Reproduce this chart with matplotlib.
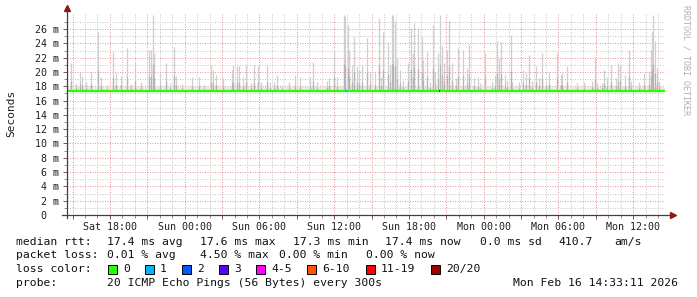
import datetime as dt
import matplotlib
matplotlib.use("Agg")
import matplotlib.pyplot as plt
import matplotlib.dates as mdates
from matplotlib.patches import Rectangle
from matplotlib.ticker import FuncFormatter, FixedLocator

# time window: 48 h ending at the graph timestamp
start = dt.datetime(2026, 2, 14, 14, 33, 11)
end = start + dt.timedelta(hours=48)

median_ms = 17.4
smoke_floor_ms = 17.85

# smoke spikes: hours after start, top of the spike in ms
spike_hours = [0.32, 0.72, 1.04, 1.20, 1.52, 1.92, 2.48, 2.72, 3.20, 3.68, 3.92, 4.32,
               4.80, 5.12, 5.44, 5.92, 6.56, 6.72, 6.88, 6.96, 7.44, 7.92, 8.24, 8.56,
               8.72, 9.20, 10.00, 10.56, 10.96, 11.52, 11.68, 11.92, 12.56, 13.28, 13.36,
               13.68, 13.84, 14.16, 14.40, 14.80, 15.04, 15.36, 15.60, 16.08, 16.32, 16.64,
               16.88, 17.28, 17.84, 18.32, 18.72, 19.52, 19.76, 20.08, 20.88, 21.04, 21.44,
               21.68, 22.24, 22.32, 22.56, 22.64, 22.88, 23.04, 23.28, 23.44, 23.68, 24.08,
               24.32, 24.72, 25.04, 25.20, 25.36, 25.76, 25.92, 26.08, 26.16, 26.32, 26.48,
               26.72, 26.96, 27.36, 27.60, 27.76, 27.84, 28.16, 28.48, 28.56, 28.88, 29.12,
               29.36, 29.52, 29.76, 29.92, 30.08, 30.24, 30.48, 30.64, 30.88, 31.20, 31.36,
               31.76, 32.08, 32.24, 32.64, 32.96, 33.12, 33.52, 34.08, 34.32, 34.48, 34.64,
               34.80, 35.12, 35.28, 35.60, 35.68, 36.32, 36.64, 36.88, 37.12, 37.36, 37.68,
               37.92, 38.16, 38.48, 38.72, 39.36, 39.68, 39.76, 40.16, 40.96, 41.52, 42.16,
               42.40, 42.56, 42.96, 43.12, 43.36, 43.68, 44.08, 44.24, 44.40, 44.80, 45.12,
               45.28, 45.92, 46.32, 46.72, 46.88, 46.96, 47.04, 47.20, 47.36, 47.52]
spike_top = [21.3, 18.4, 20.0, 19.5, 18.6, 20.0, 25.6, 19.3, 18.2, 22.8, 19.8, 19.5,
             23.3, 18.3, 21.4, 18.6, 23.1, 23.1, 28.0, 22.6, 19.8, 21.3, 18.5, 23.5,
             19.5, 18.3, 19.3, 19.3, 18.2, 21.0, 20.3, 19.6, 19.1, 20.3, 21.0,
             20.8, 20.8, 19.3, 21.0, 18.4, 21.0, 20.8, 18.6, 21.0, 18.6, 18.6,
             19.6, 18.2, 18.6, 19.6, 19.3, 19.3, 21.4, 18.6, 18.8, 19.1, 22.8,
             19.3, 28.0, 27.7, 26.6, 23.1, 21.0, 24.9, 20.8, 20.3, 21.0, 24.7,
             20.0, 19.8, 27.5, 19.3, 25.6, 24.2, 21.0, 28.0, 28.0, 27.2, 21.9,
             20.3, 18.8, 21.2, 26.1, 22.6, 26.8, 26.1, 24.9, 21.7, 22.8, 18.6,
             26.6, 20.0, 22.6, 28.0, 23.7, 21.2, 23.1, 27.2, 21.2, 19.1, 23.3,
             23.1, 20.5, 23.9, 19.1, 19.3, 18.4, 22.6, 18.6, 19.6, 24.4, 21.9,
             24.2, 19.6, 18.8, 25.2, 18.6, 18.6, 20.3, 19.8, 22.4, 18.8, 20.8,
             19.1, 22.6, 18.8, 20.0, 22.6, 19.6, 19.8, 20.8, 18.4, 18.6, 18.8,
             21.9, 18.4, 18.4, 20.3, 19.3, 21.0, 19.1, 21.2, 21.0, 19.6, 23.1,
             18.8, 18.6, 19.8, 20.0, 23.1, 25.6, 28.0, 24.4, 20.5, 18.8]

# packet loss events on the median line
loss_hours = [22.40, 29.92]
loss_level = ["1", "20/20"]

loss_names = ["0", "1", "2", "3", "4-5", "6-10", "11-19", "20/20"]
loss_colors = ["#26ff00", "#00b8ff", "#0059ff", "#5e00ff", "#ff00ff", "#ff5500", "#ff0000", "#a10000"]

y_major = list(range(0, 27, 2))
y_minor = list(range(1, 28, 2))

W, H = 697, 297
fig = plt.figure(figsize=(W / 100, H / 100), dpi=100)
fig.patch.set_facecolor("white")
ax = fig.add_axes([67 / W, (H - 215) / H, 598 / W, 202 / H])
mono = "DejaVu Sans Mono"


def t(h):
    return mdates.date2num(start + dt.timedelta(hours=h))


# smoke
ax.fill_between([t(0), t(48)], median_ms, smoke_floor_ms, color="#e8e8e8", lw=0, zorder=1)
xs = [t(h) for h in spike_hours]
ax.vlines(xs, median_ms, spike_top, color="#cfcfcf", lw=0.9, zorder=2)
ax.vlines(xs, median_ms, [median_ms + (v - median_ms) * 0.35 for v in spike_top],
          color="#b4b4b4", lw=0.9, zorder=2)

# median
ax.plot([t(0), t(48)], [median_ms, median_ms], color=loss_colors[0], lw=1.6,
        solid_capstyle="butt", zorder=4)
for h, lv in zip(loss_hours, loss_level):
    c = loss_colors[loss_names.index(lv)]
    ax.plot([t(h - 0.05), t(h + 0.05)], [median_ms, median_ms], color=c, lw=1.6,
            solid_capstyle="butt", zorder=5)

ax.set_xlim(t(0), t(48))
ax.set_ylim(0, 28.25)

# grid
ax.xaxis.set_major_locator(mdates.HourLocator(byhour=range(0, 24, 3)))
ax.xaxis.set_minor_locator(mdates.HourLocator())
ax.xaxis.set_major_formatter(FuncFormatter(
    lambda v, p: mdates.num2date(v).strftime("%a %H:%M") if mdates.num2date(v).hour % 6 == 0 else ""))
ax.yaxis.set_major_locator(FixedLocator(y_major))
ax.yaxis.set_minor_locator(FixedLocator(y_minor))
ax.yaxis.set_major_formatter(FuncFormatter(lambda v, p: "0  " if v == 0 else f"{int(v)} m"))
ax.grid(which="major", color="#e49a9a", lw=0.72, ls=(0, (1, 1.5)), zorder=0)
ax.grid(which="minor", color="#c8c8c8", lw=0.72, ls=(0, (1, 1.5)), zorder=0)
ax.set_axisbelow(True)

ax.tick_params(axis="both", which="major", length=3, width=0.7, color="#606060",
               labelsize=7.2, labelcolor="#202020", pad=2)
ax.tick_params(axis="both", which="minor", length=2, width=0.7, color="#909090")
ax.tick_params(axis="y", pad=3)
for lab in ax.get_xticklabels() + ax.get_yticklabels():
    lab.set_family(mono)

for s in ax.spines.values():
    s.set_visible(False)

# axis lines with arrows
ax.plot([-0.009, 1.01], [0, 0], transform=ax.transAxes, color="#404040", lw=0.9, clip_on=False, zorder=6)
ax.plot([0, 0], [-0.015, 1.02], transform=ax.transAxes, color="#404040", lw=0.9, clip_on=False, zorder=6)
ax.plot([1.014], [0], transform=ax.transAxes, marker=">", ms=4, color="#8b1a1a", clip_on=False, zorder=7)
ax.plot([0], [1.025], transform=ax.transAxes, marker="^", ms=4, color="#8b1a1a", clip_on=False, zorder=7)

fig.text(11 / W, 1 - 113 / H, "Seconds", rotation=90, family=mono, fontsize=8,
         ha="center", va="center", color="#202020")
fig.text(686 / W, 1 - 5 / H, "RRDTOOL / TOBI OETIKER", rotation=270, family=mono, fontsize=6,
         ha="center", va="top", color="#b0b0b0")


def txt(x, y, s):
    fig.text(x / W, 1 - y / H, s, family=mono, fontsize=8.2, ha="left", va="center", color="#101010")


row1 = [(16, "median rtt:"), (107, "17.4 ms avg"), (200, "17.6 ms max"), (293, "17.3 ms min"),
        (385, "17.4 ms now"), (480, "0.0 ms sd"), (558, "410.7"), (614, "am/s")]
row2 = [(16, "packet loss:"), (107, "0.01 % avg"), (200, "4.50 % max"), (279, "0.00 % min"),
        (366, "0.00 % now")]
for x, s in row1:
    txt(x, 242, s)
for x, s in row2:
    txt(x, 255, s)

txt(16, 269, "loss color:")
box_x = [108, 145, 182, 219, 256, 307, 366, 431]
for bx, name, col in zip(box_x, loss_names, loss_colors):
    fig.patches.append(Rectangle((bx / W, 1 - 274 / H), 9 / W, 9 / H, transform=fig.transFigure,
                                 facecolor=col, edgecolor="black", lw=0.7))
    txt(bx + 15, 269, name)

txt(16, 283, "probe:")
txt(107, 283, "20 ICMP Echo Pings (56 Bytes) every 300s")
txt(513, 283, "Mon Feb 16 14:33:11 2026")

fig.savefig("out.png", dpi=100, facecolor="white")
